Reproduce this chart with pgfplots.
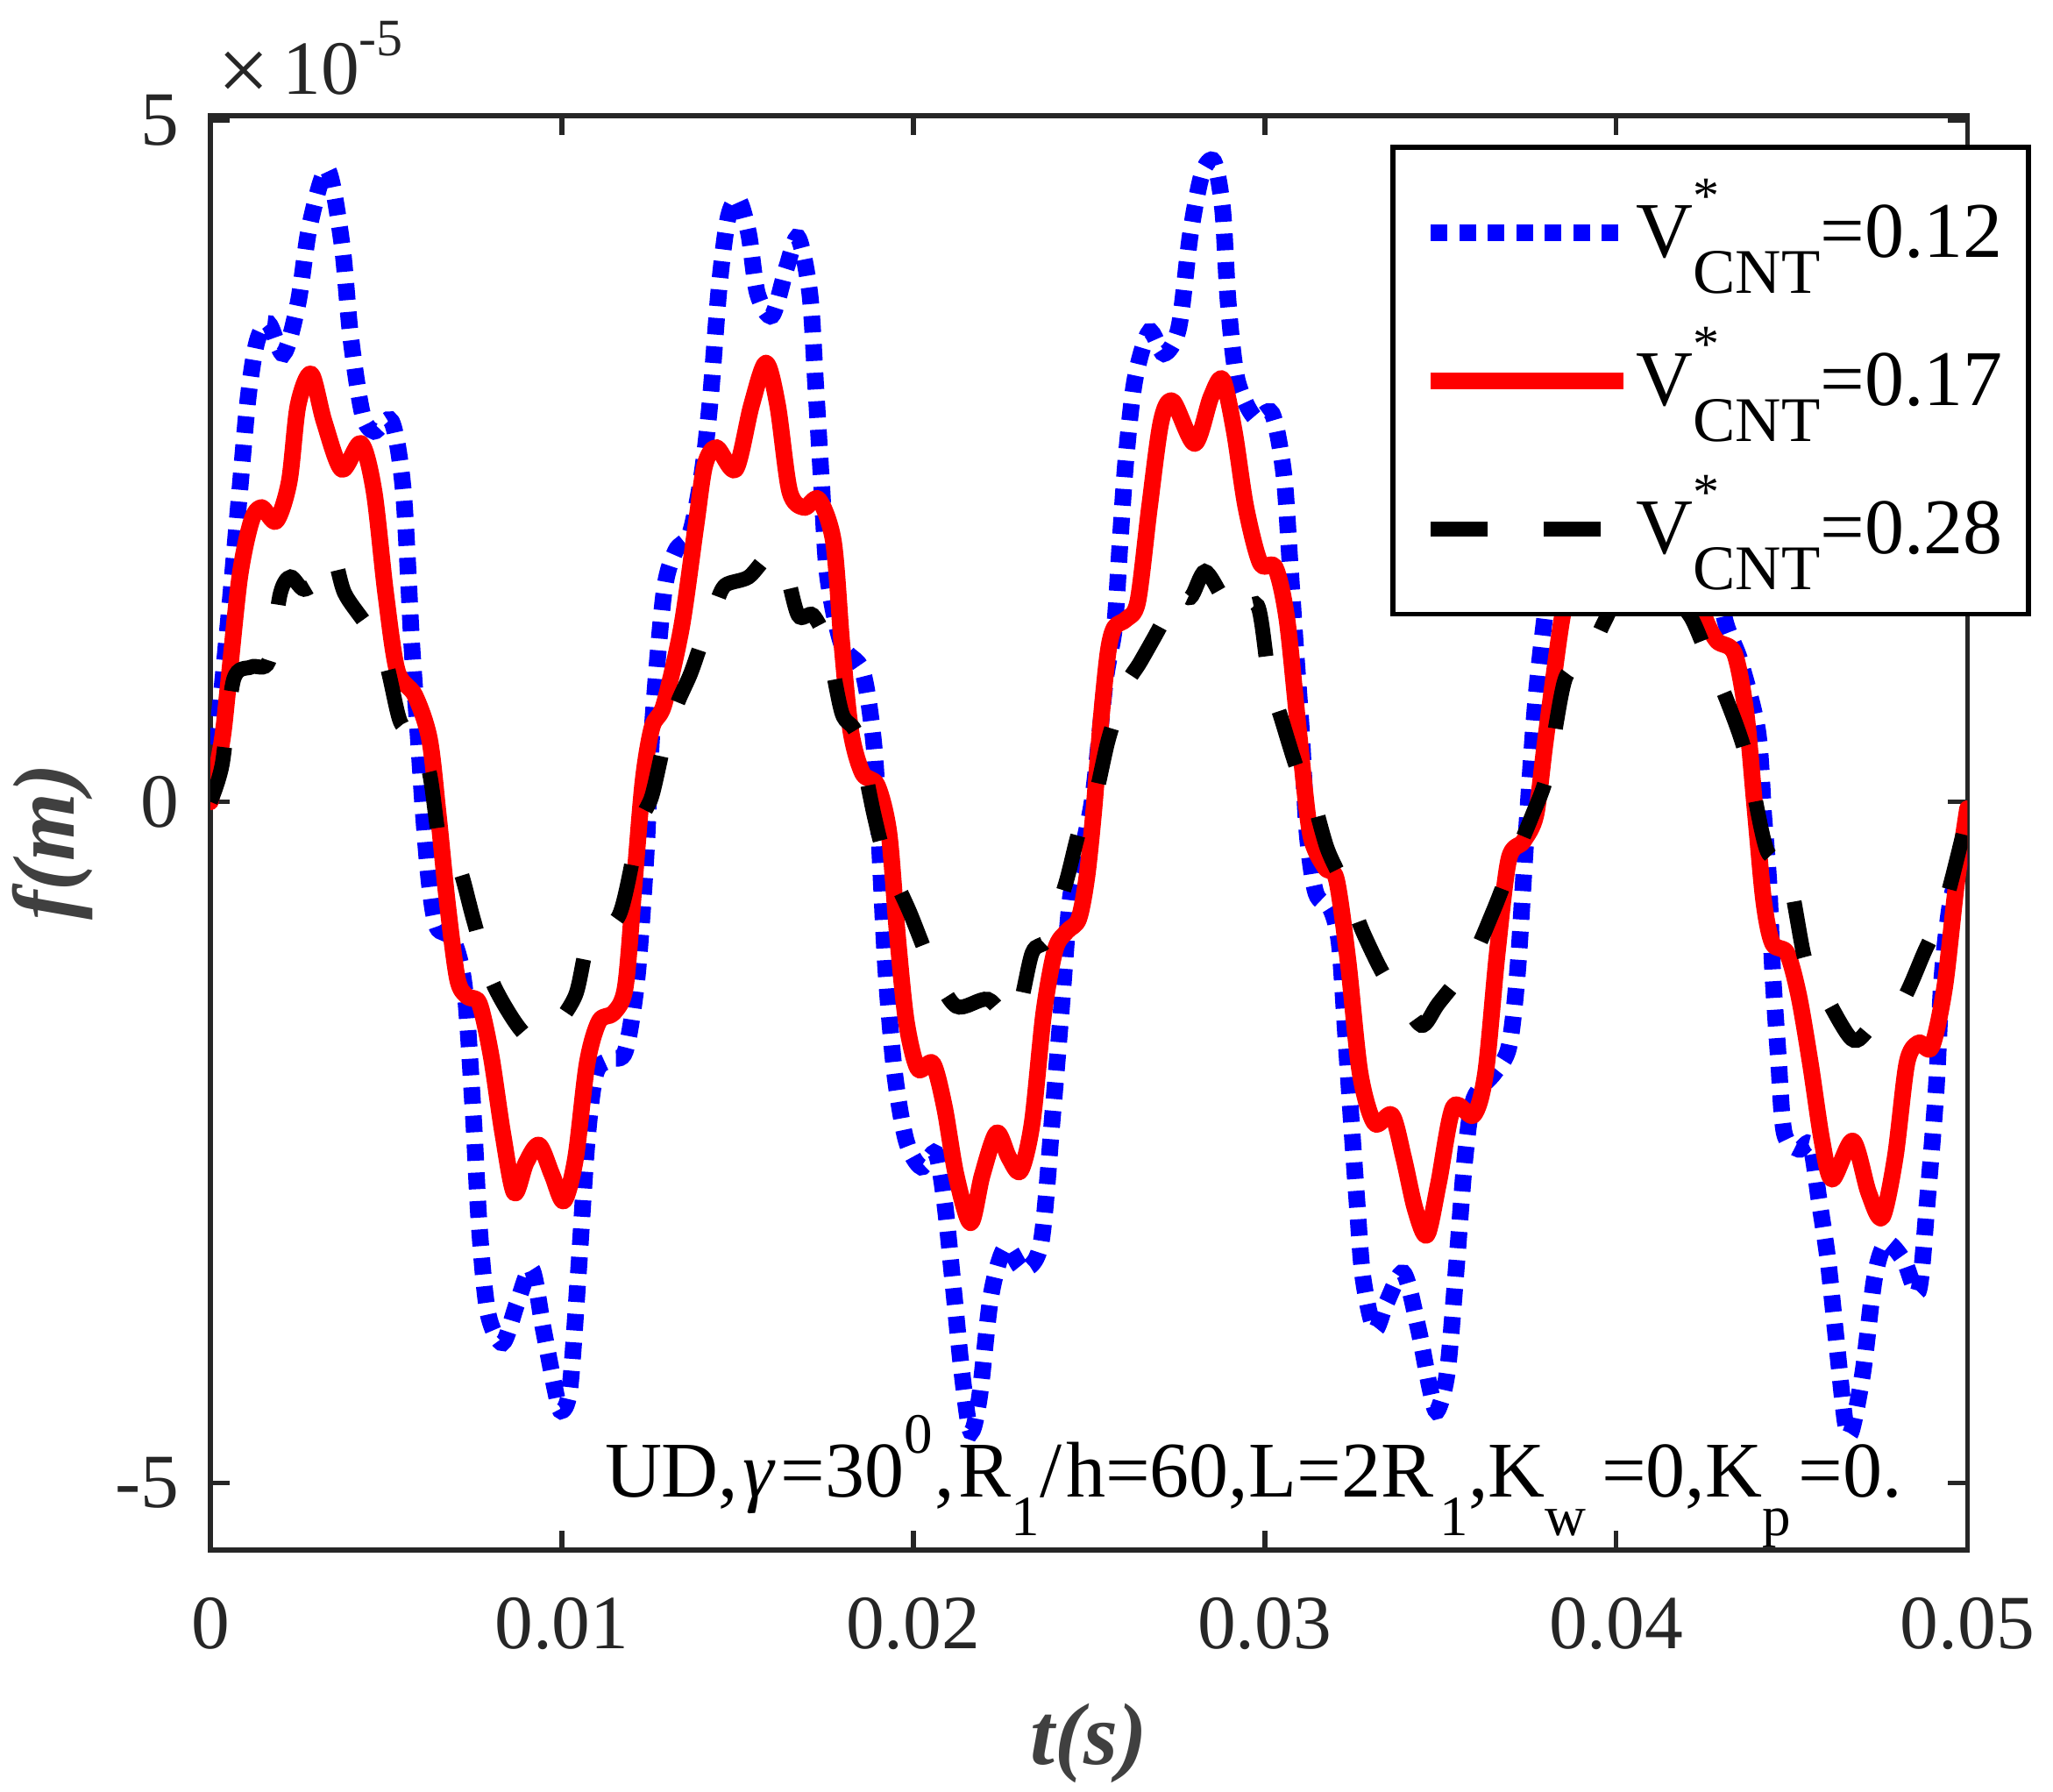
\documentclass[border=0pt]{standalone}
\usepackage{fontspec}
\setmainfont{Liberation Serif}
\usepackage{pgfplots}
\pgfplotsset{compat=1.18}
\definecolor{axgray}{RGB}{38,38,38}
\definecolor{labgray}{RGB}{64,64,64}
\newcommand{\scr}{\fontsize{13}{13}\selectfont}
\newcommand{\sbs}[1]{\raisebox{-8.8pt}{\scr #1}}
\newcommand{\sps}[1]{\raisebox{10pt}{\scr #1}}
\newcommand{\vcnt}{V\rlap{\raisebox{10pt}{\fontsize{12}{12}\selectfont *}}\raisebox{-8.3pt}{\fontsize{14.5}{14.5}\selectfont CNT}}
\begin{document}
\begin{tikzpicture}
\useasboundingbox (-48pt,-55.2pt) rectangle (420.4pt,353.6pt);
\begin{axis}[
  at={(0pt,0pt)}, anchor=south west,
  scale only axis, width=400.9pt, height=327.2pt,
  xmin=0, xmax=50, ymin=-5.492, ymax=5.036,
  xtick={0,10,20,30,40,50},
  xticklabels={0,0.01,0.02,0.03,0.04,0.05},
  ytick={-5,0,5}, yticklabels={-5,0,5},
  tick align=inside, major tick length=4.4pt,
  axis line style={draw=axgray, line width=1.15pt},
  tick style={draw=axgray, line width=1.15pt},
  tick label style={font=\fontsize{17.5}{17.5}\selectfont, text=axgray},
  xticklabel style={yshift=-7.4pt},
  yticklabel style={xshift=-3.6pt},
  legend style={at={(0.6715,0.9798)}, anchor=north west, draw=black, line width=1.15pt, fill=white,
    inner xsep=5.8pt, inner ysep=2.55pt, row sep=0pt, column sep=0.9pt,
    font=\fontsize{18}{18}\selectfont, nodes={inner sep=0pt, text height=22.55pt, text depth=11.25pt}},
  legend cell align=left,
  legend image code/.code={\path (0pt,0pt); \draw[#1, line cap=butt] (1pt,0pt) -- (45pt,0pt);},
]
\addplot[blue, line width=3.8pt, dash pattern=on 3.8pt off 2.7pt, line cap=butt, smooth] coordinates {
(0,0) (0.332,0.84) (0.583,1.53) (0.835,2.28) (1.076,2.97) (1.328,3.38) (1.659,3.51) (2.082,3.29) (2.494,3.66) (2.826,4.23) (3.329,4.64) (3.741,4.10) (3.993,3.41) (4.325,2.85) (4.656,2.72) (5.159,2.79) (5.491,2.28) (5.732,1.15) (5.903,0.52) (6.064,-0.10) (6.235,-0.61) (6.447,-0.92) (6.899,-1.01) (7.231,-1.36) (7.482,-2.30) (7.653,-3.12) (7.895,-3.75) (8.317,-3.97) (8.729,-3.68) (9.142,-3.43) (9.474,-3.87) (9.806,-4.31) (9.977,-4.47) (10.228,-4.31) (10.479,-3.43) (10.721,-2.49) (10.972,-1.99) (11.395,-1.89) (11.807,-1.83) (12.139,-1.30) (12.390,-0.42) (12.571,0.53) (12.903,1.53) (13.235,1.84) (13.647,1.97) (13.989,2.41) (14.231,2.97) (14.482,3.79) (14.734,4.29) (15.025,4.42) (15.317,4.17) (15.568,3.73) (15.981,3.57) (16.393,3.92) (16.725,4.14) (17.057,3.73) (17.228,3.04) (17.389,2.35) (17.560,1.66) (17.972,1.15) (18.555,0.96) (18.887,0.40) (19.058,-0.42) (19.219,-1.23) (19.470,-1.99) (19.802,-2.49) (20.225,-2.68) (20.637,-2.58) (20.888,-2.93) (21.140,-3.56) (21.381,-4.18) (21.633,-4.62) (21.884,-4.37) (22.216,-3.62) (22.628,-3.27) (23.131,-3.43) (23.634,-3.24) (23.966,-2.30) (24.207,-1.55) (24.459,-0.73) (24.710,-0.45) (24.941,-0.20) (25.143,0.10) (25.474,0.90) (25.726,1.28) (25.887,1.91) (26.058,2.53) (26.309,3.10) (26.721,3.45) (27.134,3.29) (27.556,3.48) (27.888,4.17) (28.220,4.61) (28.552,4.70) (28.803,4.35) (28.964,3.66) (29.216,3.10) (29.718,2.82) (30.211,2.85) (30.543,2.41) (30.714,1.78) (30.875,1.15) (31.046,0.52) (31.207,-0.23) (31.458,-0.67) (31.881,-0.79) (32.122,-1.04) (32.293,-1.67) (32.454,-2.30) (32.625,-2.93) (32.796,-3.49) (33.128,-3.87) (33.460,-3.68) (33.952,-3.46) (34.375,-3.87) (34.707,-4.31) (34.908,-4.47) (35.200,-4.18) (35.451,-3.43) (35.702,-2.61) (35.954,-2.18) (36.537,-1.99) (36.949,-1.80) (37.201,-1.23) (37.452,-0.20) (37.714,0.75) (38.015,1.45) (38.317,2.00) (38.569,2.60) (38.820,3.10) (39.222,3.45) (39.625,3.30) (40.027,3.50) (40.379,4.15) (40.731,4.60) (41.033,4.70) (41.284,4.35) (41.485,3.70) (41.737,3.10) (42.139,2.80) (42.541,2.85) (42.793,2.20) (43.044,1.40) (43.537,1.03) (44.030,0.52) (44.201,-0.10) (44.351,-0.61) (44.452,-1.23) (44.613,-1.86) (44.784,-2.43) (45.196,-2.55) (45.528,-2.52) (45.779,-2.93) (46.031,-3.37) (46.282,-3.99) (46.524,-4.56) (46.695,-4.62) (47.027,-4.18) (47.358,-3.49) (47.690,-3.24) (48.193,-3.37) (48.605,-3.59) (48.857,-2.93) (49.108,-2.11) (49.269,-1.30) (49.521,-0.73) (49.853,-0.45) (50,-0.35)
};
\addlegendentry{\vcnt=0.12}
\addplot[red, line width=3.8pt, line join=round, line cap=round, smooth] coordinates {
(0,0) (0.332,0.45) (0.503,0.84) (0.835,1.65) (1.167,2.06) (1.458,2.16) (1.871,2.06) (2.243,2.35) (2.494,2.91) (2.866,3.14) (3.238,2.79) (3.741,2.44) (4.284,2.63) (4.656,2.28) (4.988,1.53) (5.320,0.96) (5.823,0.78) (6.235,0.46) (6.487,-0.10) (6.738,-0.73) (7.030,-1.30) (7.311,-1.43) (7.653,-1.48) (7.985,-1.86) (8.317,-2.43) (8.649,-2.87) (8.981,-2.65) (9.353,-2.52) (9.725,-2.74) (10.057,-2.93) (10.389,-2.62) (10.721,-1.92) (11.063,-1.61) (11.475,-1.55) (11.807,-1.36) (12.058,-0.61) (12.310,0.15) (12.571,0.55) (12.903,0.71) (13.406,1.28) (13.818,2.03) (14.070,2.47) (14.402,2.60) (14.945,2.44) (15.397,2.91) (15.810,3.22) (16.141,2.91) (16.483,2.28) (16.896,2.16) (17.308,2.22) (17.730,1.91) (17.972,1.15) (18.223,0.52) (18.555,0.21) (18.978,0.12) (19.309,-0.23) (19.551,-0.98) (19.802,-1.61) (20.134,-1.96) (20.557,-1.92) (20.888,-2.24) (21.220,-2.74) (21.633,-3.09) (21.964,-2.74) (22.377,-2.43) (22.719,-2.61) (23.051,-2.71) (23.383,-2.36) (23.714,-1.55) (24.046,-1.08) (24.378,-0.95) (24.710,-0.86) (24.941,-0.55) (25.143,-0.05) (25.344,0.60) (25.545,1.10) (25.726,1.28) (26.058,1.34) (26.390,1.47) (26.721,2.16) (27.053,2.79) (27.385,2.94) (28.009,2.63) (28.471,2.97) (28.803,3.10) (29.135,2.72) (29.467,2.16) (29.879,1.75) (30.302,1.72) (30.634,1.34) (30.966,0.52) (31.297,-0.23) (31.710,-0.48) (32.042,-0.57) (32.373,-1.17) (32.715,-1.99) (33.128,-2.36) (33.621,-2.30) (33.952,-2.61) (34.284,-2.99) (34.616,-3.18) (34.948,-2.80) (35.370,-2.24) (35.944,-2.30) (36.286,-1.99) (36.618,-1.11) (36.949,-0.42) (37.362,-0.29) (37.714,-0.10) (37.965,0.40) (38.217,0.90) (38.458,1.34) (38.770,1.75) (39.122,2.35) (39.474,2.85) (39.775,2.95) (40.329,2.62) (40.781,3.00) (41.133,3.10) (41.485,2.70) (41.887,2.05) (42.239,1.60) (42.541,1.34) (42.873,1.18) (43.366,1.09) (43.698,0.65) (43.949,-0.04) (44.201,-0.73) (44.452,-1.04) (44.864,-1.11) (45.196,-1.42) (45.528,-1.92) (45.860,-2.49) (46.152,-2.77) (46.735,-2.49) (47.187,-2.87) (47.570,-3.05) (47.942,-2.61) (48.274,-1.92) (48.605,-1.77) (48.978,-1.80) (49.350,-1.36) (49.682,-0.61) (50,-0.05)
};
\addlegendentry{\vcnt=0.17}
\addplot[black, line width=3.4pt, dash pattern=on 12.9pt off 12.9pt, line cap=butt, smooth] coordinates {
(0,0) (0.332,0.27) (0.664,0.90) (1.167,0.99) (1.659,1.03) (1.991,1.53) (2.283,1.65) (2.665,1.56) (3.158,1.65) (3.490,1.81) (3.822,1.53) (4.485,1.28) (4.988,1.03) (5.401,0.59) (5.823,0.49) (6.235,0.21) (6.567,-0.35) (7.070,-0.48) (7.482,-0.86) (7.985,-1.30) (8.649,-1.61) (9.142,-1.74) (9.725,-1.67) (10.389,-1.42) (10.811,-0.98) (11.636,-0.83) (12.219,-0.17) (12.571,0.05) (12.974,0.50) (13.315,0.74) (13.678,0.95) (14.080,1.25) (14.382,1.45) (14.653,1.59) (15.317,1.65) (15.900,1.81) (16.312,1.75) (16.725,1.37) (17.147,1.37) (17.560,1.15) (17.972,0.65) (18.394,0.49) (18.887,-0.10) (19.219,-0.42) (19.883,-0.80) (20.516,-1.20) (21.220,-1.50) (22.125,-1.45) (22.880,-1.61) (23.383,-1.11) (23.795,-1.01) (24.338,-0.60) (24.740,-0.20) (25.143,0.00) (25.555,0.46) (26.048,0.85) (26.470,1.03) (27.134,1.34) (27.466,1.56) (27.888,1.50) (28.300,1.69) (28.803,1.50) (29.216,1.34) (29.799,1.44) (30.131,0.90) (30.463,0.62) (30.966,0.21) (31.338,0.05) (31.790,-0.35) (32.373,-0.67) (32.786,-0.95) (33.369,-1.26) (33.792,-1.39) (34.455,-1.64) (34.948,-1.48) (35.863,-1.17) (36.507,-0.80) (36.949,-0.51) (37.613,-0.10) (38.046,0.21) (38.548,0.90) (39.122,1.03) (39.625,1.30) (40.127,1.55) (40.630,1.70) (41.133,1.60) (41.636,1.50) (42.139,1.35) (42.622,1.06) (43.145,0.75) (43.698,0.34) (44.281,-0.35) (44.854,-0.48) (45.357,-1.14) (45.699,-1.30) (46.695,-1.74) (47.268,-1.65) (48.103,-1.48) (48.776,-1.10) (49.350,-0.76) (50,-0.10)
};
\addlegendentry{\vcnt=0.28}
\end{axis}
\node[anchor=base west, inner sep=0pt, text=axgray, font=\fontsize{17.5}{17.5}\selectfont] at (1.5pt,332pt) {\raisebox{-1.5pt}{\fontsize{21}{21}\selectfont ×}\,10\raisebox{8.8pt}{\fontsize{12}{12}\selectfont -5}};
\node[anchor=base, inner sep=0pt, text=labgray, font=\fontsize{20}{20}\selectfont\bfseries\itshape] at (200.45pt,-49pt) {t(s)};
\node[anchor=base, rotate=90, inner sep=0pt, text=labgray, font=\fontsize{20}{20}\selectfont\bfseries\itshape] at (-31pt,161.5pt) {f(m)};
\node[anchor=base west, inner sep=0pt, font=\fontsize{18}{18}\selectfont] at (89.8pt,12pt) {UD,\kern1pt{\itshape γ}\kern1.5pt=30\sps{0}\kern0.5pt,\kern1pt R\sbs{1}/\kern1pt h=60,L=2R\kern1.5pt\sbs{1},K\sbs{w}\kern3.5pt=0,K\sbs{p}\kern1.8pt=0.};
\end{tikzpicture}
\end{document}
